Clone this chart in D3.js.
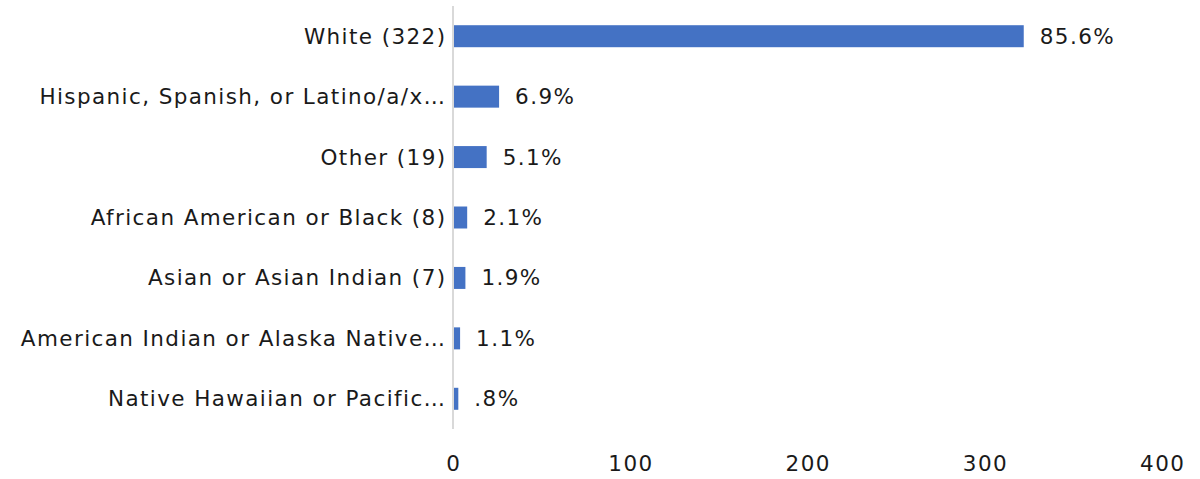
<!DOCTYPE html>
<html lang="en">
<head>
<meta charset="UTF-8">
<title>Race / ethnicity</title>
<script src="https://cdn.jsdelivr.net/npm/d3@7/dist/d3.min.js"></script>
<style>
  body { margin: 0; background: #fff; }
  text { font-family: "DejaVu Sans", "Open Sans", sans-serif; fill: #1a1a1a; letter-spacing: 1.4px; }
</style>
</head>
<body>
<div id="viz"></div>
<script>
// data
let categories = ["White (322)", "Hispanic, Spanish, or Latino/a/x\u2026", "Other (19)",
    "African American or Black (8)", "Asian or Asian Indian (7)",
    "American Indian or Alaska Native\u2026", "Native Hawaiian or Pacific\u2026"];
let counts = [322, 26, 19, 8, 7, 4, 3];
let pctLabels = ["85.6%", "6.9%", "5.1%", "2.1%", "1.9%", "1.1%", ".8%"];
let ticks = [0, 100, 200, 300, 400];

let w = 1200, h = 479;
let plotLeft = 453, plotRight = 1162, plotTop = 6, plotBottom = 429;
let fontSize = "21.5px";

let svg = d3.select("#viz").append("svg")
    .attr("width", w)
    .attr("height", h);

let x = d3.scaleLinear().domain([0, 400]).range([plotLeft, plotRight]);
let y = d3.scaleBand().domain(categories).range([plotTop, plotBottom]).paddingInner(0.636).paddingOuter(0.318);

let dataset = categories.map(function(c, i){
    return {name: c, value: counts[i], pct: pctLabels[i]};
});

// bars
svg.selectAll("rect.bar")
  .data(dataset)
  .enter()
  .append("rect")
  .attr("class", "bar")
  .attr("x", x(0))
  .attr("y", function(d){ return y(d.name); })
  .attr("width", function(d){ return x(d.value) - x(0); })
  .attr("height", y.bandwidth())
  .attr("fill", "#4472c4");

// axis line
svg.append("line")
  .attr("x1", x(0)).attr("x2", x(0))
  .attr("y1", plotTop).attr("y2", plotBottom)
  .attr("stroke", "#d9d9d9")
  .attr("stroke-width", 2);

// category labels
svg.selectAll("text.cat")
  .data(dataset)
  .enter()
  .append("text")
  .attr("class", "cat")
  .attr("x", 446.5)
  .attr("y", function(d){ return y(d.name) + y.bandwidth() / 2; })
  .attr("dy", "0.35em")
  .attr("text-anchor", "end")
  .style("font-size", fontSize)
  .text(function(d){ return d.name; });

// value labels
svg.selectAll("text.val")
  .data(dataset)
  .enter()
  .append("text")
  .attr("class", "val")
  .attr("x", function(d){ return x(d.value) + 16; })
  .attr("y", function(d){ return y(d.name) + y.bandwidth() / 2; })
  .attr("dy", "0.35em")
  .style("font-size", fontSize)
  .text(function(d){ return d.pct; });

// x tick labels
svg.selectAll("text.tick")
  .data(ticks)
  .enter()
  .append("text")
  .attr("class", "tick")
  .attr("x", function(d){ return x(d) + 0.7; })
  .attr("y", 463)
  .attr("dy", "0.35em")
  .attr("text-anchor", "middle")
  .style("font-size", fontSize)
  .text(function(d){ return d; });
</script>
</body>
</html>
